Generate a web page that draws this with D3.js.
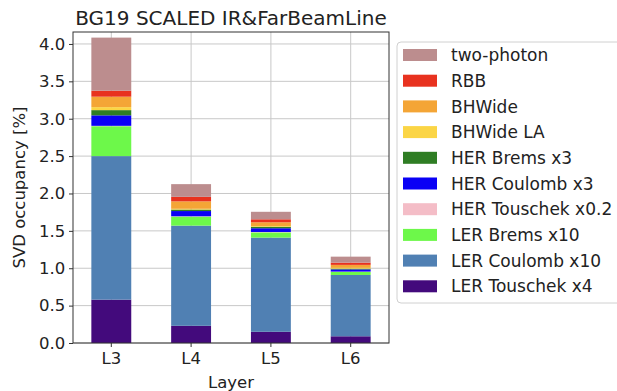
<!DOCTYPE html>
<html>
<head>
<meta charset="utf-8">
<script src="https://cdn.jsdelivr.net/npm/d3@7"></script>
<style>
  body { margin: 0; background: #fff; }
  svg { font-family: "DejaVu Sans", sans-serif; }
</style>
</head>
<body>
<div class="container"></div>
<script>
// Layers on the x axis
const layers = ["L3", "L4", "L5", "L6"];

// Stack order, bottom to top
const sources = [
  "LER Touschek x4", "LER Coulomb x10", "LER Brems x10", "HER Touschek x0.2",
  "HER Coulomb x3", "HER Brems x3", "BHWide LA", "BHWide", "RBB", "two-photon"
];
const colors = [
  "#430a7c", "#5080b3", "#6df84a", "#f4bdc7",
  "#0a00f5", "#2f7d24", "#fbd545", "#f4a536", "#e8321f", "#bc8d8e"
];

// Occupancy [%] per source, one value per layer
const lerTouschek = [0.58, 0.23, 0.15, 0.09];
const lerCoulomb  = [1.92, 1.34, 1.26, 0.82];
const lerBrems    = [0.40, 0.12, 0.07, 0.04];
const herTouschek = [0.005, 0.005, 0.005, 0.005];
const herCoulomb  = [0.14, 0.07, 0.05, 0.03];
const herBrems    = [0.07, 0.02, 0.02, 0.01];
const bhwideLA    = [0.04, 0.01, 0.01, 0.01];
const bhwide      = [0.14, 0.10, 0.05, 0.04];
const rbb         = [0.08, 0.06, 0.04, 0.03];
const twoPhoton   = [0.71, 0.17, 0.10, 0.08];

const yTicks = [0, 0.5, 1.0, 1.5, 2.0, 2.5, 3.0, 3.5, 4.0];

const series = [lerTouschek, lerCoulomb, lerBrems, herTouschek, herCoulomb,
  herBrems, bhwideLA, bhwide, rbb, twoPhoton];

const table = layers.map((l, i) => {
  const row = { layer: l };
  sources.forEach((s, j) => (row[s] = series[j][i]));
  return row;
});

const width = 617;
const height = 391;
const marginLeft = 73;
const marginRight = 228;
const marginTop = 32;
const marginBottom = 48;

const x = d3.scaleBand()
  .domain(layers)
  .range([marginLeft, width - marginRight])
  .paddingInner(0.5)
  .paddingOuter(0.23);

const y = d3.scaleLinear()
  .domain([0, 4.16])
  .range([height - marginBottom, marginTop]);

const stacked = d3.stack().keys(sources)(table);

const svg = d3.select(".container")
  .append("svg")
  .attr("width", width)
  .attr("height", height);

// grid lines
svg.append("g")
  .selectAll("line")
  .data(yTicks)
  .join("line")
  .attr("x1", marginLeft)
  .attr("x2", width - marginRight)
  .attr("y1", d => y(d))
  .attr("y2", d => y(d))
  .attr("stroke", "#c8c8c8")
  .attr("stroke-width", 1);

svg.append("g")
  .selectAll("line")
  .data(layers)
  .join("line")
  .attr("x1", d => x(d) + x.bandwidth() / 2)
  .attr("x2", d => x(d) + x.bandwidth() / 2)
  .attr("y1", marginTop)
  .attr("y2", height - marginBottom)
  .attr("stroke", "#c8c8c8")
  .attr("stroke-width", 1);

// bars
svg.append("g")
  .selectAll("g")
  .data(stacked)
  .join("g")
  .attr("fill", (d, i) => colors[i])
  .selectAll("rect")
  .data(d => d)
  .join("rect")
  .attr("x", d => x(d.data.layer))
  .attr("y", d => y(d[1]))
  .attr("width", x.bandwidth())
  .attr("height", d => y(d[0]) - y(d[1]));

// axes
const xAxis = svg.append("g")
  .attr("transform", `translate(0,${height - marginBottom})`)
  .call(d3.axisBottom(x).tickSize(4).tickSizeOuter(0));

const yAxis = svg.append("g")
  .attr("transform", `translate(${marginLeft},0)`)
  .call(d3.axisLeft(y).tickValues(yTicks).tickFormat(d3.format(".1f")).tickSize(4).tickSizeOuter(0));

[xAxis, yAxis].forEach(a => {
  a.select(".domain").remove();
  a.selectAll("text").attr("font-size", 16.5).attr("fill", "#222").attr("font-family", "DejaVu Sans");
  a.selectAll(".tick line").attr("stroke", "#333");
});
xAxis.selectAll("text").attr("dy", "0.85em");
yAxis.selectAll("text").attr("dx", "-0.05em");

// frame
svg.append("rect")
  .attr("x", marginLeft)
  .attr("y", marginTop)
  .attr("width", width - marginRight - marginLeft)
  .attr("height", height - marginBottom - marginTop)
  .attr("fill", "none")
  .attr("stroke", "#333")
  .attr("stroke-width", 1);

// title and labels
svg.append("text")
  .attr("x", (marginLeft + width - marginRight) / 2)
  .attr("y", 25)
  .attr("text-anchor", "middle")
  .attr("font-size", 20)
  .attr("fill", "#222")
  .text("BG19 SCALED IR&FarBeamLine");

svg.append("text")
  .attr("x", (marginLeft + width - marginRight) / 2)
  .attr("y", 388)
  .attr("text-anchor", "middle")
  .attr("font-size", 16.5)
  .attr("fill", "#222")
  .text("Layer");

svg.append("text")
  .attr("transform", `translate(25,${(marginTop + height - marginBottom) / 2}) rotate(-90)`)
  .attr("text-anchor", "middle")
  .attr("font-size", 16.5)
  .attr("fill", "#222")
  .text("SVD occupancy [%]");

// legend
const legend = svg.append("g").attr("transform", "translate(397,42)");
legend.append("rect")
  .attr("width", 240)
  .attr("height", 261)
  .attr("rx", 4)
  .attr("fill", "#fff")
  .attr("stroke", "#d0d0d0");

const items = legend.selectAll("g.item")
  .data(sources.slice().reverse())
  .join("g")
  .attr("class", "item")
  .attr("transform", (d, i) => `translate(0,${13 + i * 25.7})`);

items.append("rect")
  .attr("x", 6)
  .attr("y", -6)
  .attr("width", 34)
  .attr("height", 12)
  .attr("fill", d => colors[sources.indexOf(d)]);

items.append("text")
  .attr("x", 54)
  .attr("y", 0)
  .attr("dy", "0.36em")
  .attr("font-size", 17)
  .attr("fill", "#222")
  .text(d => d);
</script>
</body>
</html>
